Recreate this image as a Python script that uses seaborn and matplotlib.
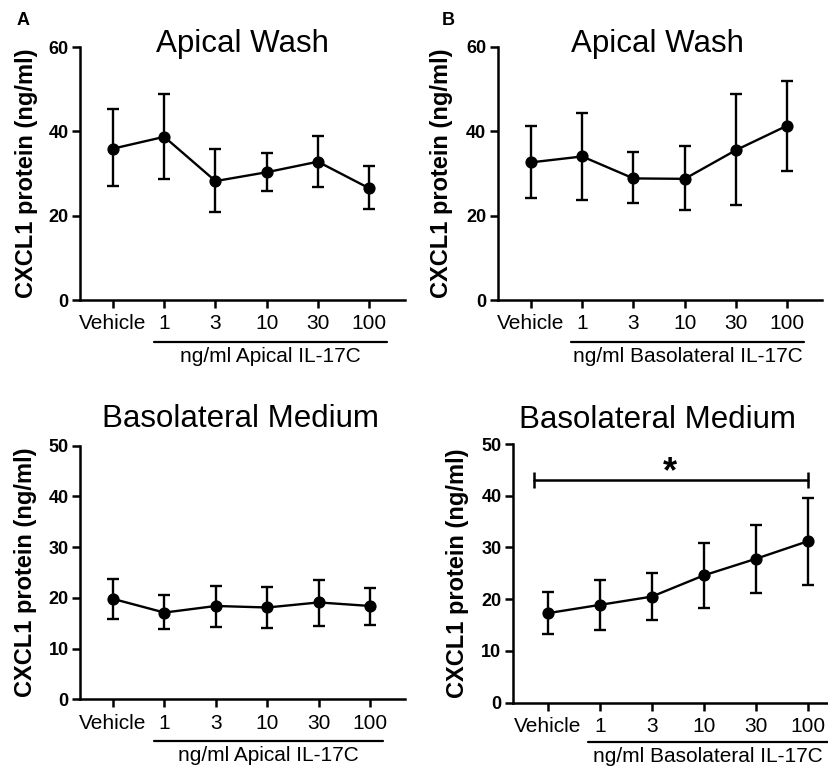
import numpy as np
import pandas as pd
import matplotlib
matplotlib.use("Agg")
import matplotlib.pyplot as plt
import seaborn as sns

# ---------------- data ----------------
categories = ["Vehicle", "1", "3", "10", "30", "100"]

a_wash_mean = [35.9, 38.7, 28.2, 30.3, 32.8, 26.5]
a_wash_lo = [27.1, 28.7, 20.8, 25.8, 26.9, 21.6]
a_wash_hi = [45.2, 48.9, 35.8, 34.8, 38.8, 31.8]

b_wash_mean = [32.6, 34.0, 28.8, 28.7, 35.5, 41.3]
b_wash_lo = [24.2, 23.7, 22.9, 21.3, 22.4, 30.6]
b_wash_hi = [41.1, 44.2, 35.1, 36.5, 48.9, 51.9]

a_med_mean = [19.8, 17.1, 18.4, 18.1, 19.1, 18.4]
a_med_lo = [15.8, 13.8, 14.3, 14.1, 14.5, 14.7]
a_med_hi = [23.7, 20.6, 22.3, 22.2, 23.5, 22.0]

b_med_mean = [17.3, 18.9, 20.5, 24.6, 27.8, 31.2]
b_med_lo = [13.3, 14.1, 16.0, 18.3, 21.2, 22.7]
b_med_hi = [21.3, 23.8, 25.0, 30.9, 34.3, 39.6]

titles = ["Apical Wash", "Apical Wash", "Basolateral Medium", "Basolateral Medium"]
group_labels = ["ng/ml Apical IL-17C", "ng/ml Basolateral IL-17C",
                "ng/ml Apical IL-17C", "ng/ml Basolateral IL-17C"]
ylabel = "CXCL1 protein (ng/ml)"
wash_ticks = [0, 20, 40, 60]
med_ticks = [0, 10, 20, 30, 40, 50]
sig_label = "*"
sig_y = 43.0

# ---------------- style ----------------
sns.set_style("ticks")
plt.rcParams["font.family"] = ["Liberation Sans", "DejaVu Sans"]
for key in ("text.color", "axes.labelcolor", "xtick.color", "ytick.color", "axes.edgecolor"):
    plt.rcParams[key] = "black"

W, H = 829, 772
fig = plt.figure(figsize=(W / 100, H / 100), dpi=100)

def px_axes(left, top, right, bottom):
    return fig.add_axes([left / W, 1 - bottom / H, (right - left) / W, (bottom - top) / H])

panels = [
    dict(box=(80, 47, 405, 300), xlim=(-0.645, 5.70), ticks=wash_ticks,
         mean=a_wash_mean, lo=a_wash_lo, hi=a_wash_hi, ylc=-0.166,
         line=(0.80, 5.35), liney=-0.165, texty=-0.244, title_xy=(242, 52)),
    dict(box=(497.7, 46.7, 822, 300), xlim=(-0.65, 5.68), ticks=wash_ticks,
         mean=b_wash_mean, lo=b_wash_lo, hi=b_wash_hi, ylc=-0.172,
         line=(0.78, 5.33), liney=-0.165, texty=-0.244, title_xy=(657, 52)),
    dict(box=(80.3, 445.7, 405, 699.3), xlim=(-0.636, 5.68), ticks=med_ticks,
         mean=a_med_mean, lo=a_med_lo, hi=a_med_hi, ylc=-0.169,
         line=(0.80, 5.26), liney=-0.163, texty=-0.242, title_xy=(240, 427)),
    dict(box=(513, 444, 828, 702.7), xlim=(-0.667, 5.39), ticks=med_ticks,
         mean=b_med_mean, lo=b_med_lo, hi=b_med_hi, ylc=-0.175,
         line=(0.775, 5.39), liney=-0.151, texty=-0.228, title_xy=(657, 427.5)),
]

for i, p in enumerate(panels):
    ax = px_axes(*p["box"])
    df = pd.DataFrame({"dose": categories, "mean": p["mean"],
                       "lo": p["lo"], "hi": p["hi"]})
    sns.pointplot(data=df, x="dose", y="mean", order=categories, color="black",
                  errorbar=None, markers="o", markersize=7.5, linewidth=1.7,
                  ax=ax, zorder=3)
    xs = np.arange(len(categories))
    m = df["mean"].to_numpy()
    ax.errorbar(xs, m, yerr=[m - df["lo"].to_numpy(), df["hi"].to_numpy() - m],
                fmt="none", ecolor="black", elinewidth=1.7, capsize=4.2,
                capthick=1.7, zorder=2)
    ax.set_xlim(*p["xlim"])
    ax.set_ylim(p["ticks"][0], p["ticks"][-1])
    ax.set_yticks(p["ticks"])
    ax.set_xlabel("")
    ax.set_ylabel(ylabel, fontsize=17, fontweight="bold", va="center", color="black")
    ax.yaxis.set_label_coords(p["ylc"], 0.5)
    sns.despine(ax=ax)
    for s in ("left", "bottom"):
        ax.spines[s].set_linewidth(1.8)
        ax.spines[s].set_color("black")
    ax.tick_params(axis="both", direction="out", length=5.8, width=1.8,
                   color="black", labelcolor="black")
    ax.tick_params(axis="x", labelsize=15, pad=4.5)
    ax.tick_params(axis="y", labelsize=13, pad=2.5)
    for lab in ax.get_yticklabels():
        lab.set_fontweight("bold")
    tr = ax.get_xaxis_transform()
    x0, x1 = p["line"]
    ax.plot([x0, x1], [p["liney"], p["liney"]], color="black", lw=1.6,
            transform=tr, clip_on=False)
    ax.text((x0 + x1) / 2, p["texty"], group_labels[i], transform=tr,
            ha="center", va="baseline", fontsize=15, color="black")
    fig.text(p["title_xy"][0] / W, 1 - p["title_xy"][1] / H, titles[i],
             ha="center", va="baseline", fontsize=22.5, color="black")
    if i == 3:
        ax.plot([-0.27, 5.0], [sig_y, sig_y], color="black", lw=1.8,
                marker="|", markersize=11, markeredgewidth=1.8, clip_on=False)
        ax.text(2.35, 42.6, sig_label, ha="center", va="baseline",
                fontsize=26, fontweight="bold", color="black")

fig.text(17 / W, 1 - 25 / H, "A", fontsize=13, fontweight="bold", ha="left", va="baseline")
fig.text(442 / W, 1 - 25 / H, "B", fontsize=13, fontweight="bold", ha="left", va="baseline")

fig.savefig("out.png", dpi=100)
